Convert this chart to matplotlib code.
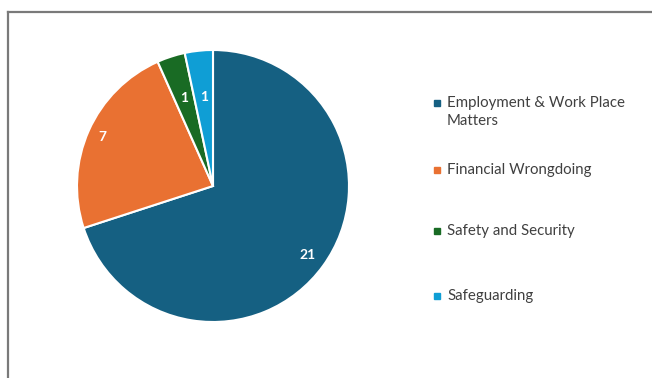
import numpy as np
import matplotlib.pyplot as plt
from matplotlib.patches import Rectangle
from matplotlib.lines import Line2D

# Категории обращений и их количество
categories = ['Employment & Work Place\nMatters', 'Financial Wrongdoing',
              'Safety and Security', 'Safeguarding']
counts = [21, 7, 1, 1]
colors = ['#156082', '#E97132', '#196B24', '#0F9ED5']

W, H = 652, 378
fig = plt.figure(figsize=(W / 100, H / 100), dpi=100)
fig.patch.set_facecolor('white')

# Рамка вокруг области графика (левая и верхняя стороны)
fig.add_artist(Line2D([8 / W, 8 / W], [0, 1 - 12 / H], color='#7a7a7a', lw=1.6))
fig.add_artist(Line2D([8 / W, 1], [1 - 12 / H, 1 - 12 / H], color='#7a7a7a', lw=1.6))

# Круговая диаграмма: центр (213, 186), радиус 136 пикселей
cx, cy, r = 213, 186, 136
ax = fig.add_axes([(cx - r) / W, (H - cy - r) / H, 2 * r / W, 2 * r / H])
wedges, _ = ax.pie(counts, colors=colors, startangle=90, counterclock=False,
                   wedgeprops=dict(edgecolor='white', linewidth=1.5))
ax.set_xlim(-1, 1)
ax.set_ylim(-1, 1)
ax.set_aspect('equal')

# Подписи значений внутри секторов
label_dist = [0.86, 0.89, 0.68, 0.66]
for w, val, d in zip(wedges, counts, label_dist):
    ang = np.deg2rad((w.theta1 + w.theta2) / 2)
    ax.text(d * np.cos(ang), d * np.sin(ang), str(val), ha='center', va='center',
            color='white', fontsize=10, fontweight='bold', family='Lato')

# Легенда справа
legend_y = [103, 170, 231, 296]
for name, col, y in zip(categories, colors, legend_y):
    fig.add_artist(Rectangle((434 / W, 1 - (y + 3) / H), 6 / W, 6 / H,
                             transform=fig.transFigure, color=col))
    if '\n' in name:
        fig.text(447 / W, 1 - (y - 7) / H, name, ha='left', va='top',
                 color='#404040', fontsize=10.8, family='Lato', linespacing=1.35)
    else:
        fig.text(447 / W, 1 - y / H, name, ha='left', va='center',
                 color='#404040', fontsize=10.8, family='Lato')

fig.savefig('out.png', dpi=100)
